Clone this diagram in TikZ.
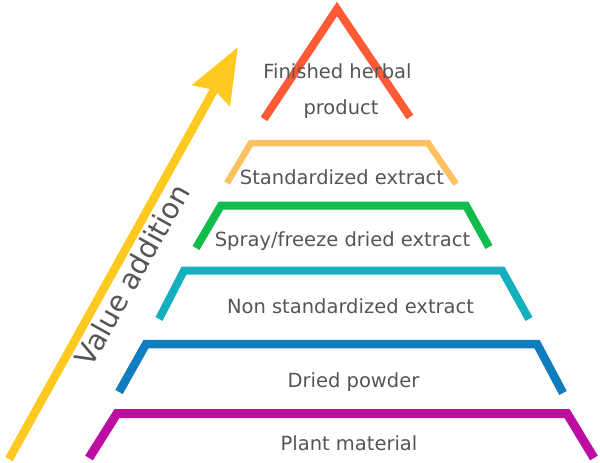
\documentclass[tikz,border=0pt]{standalone}
\usepackage{fontspec}
\setmainfont{DejaVu Sans}
\usetikzlibrary{arrows.meta}
\definecolor{cTop}{HTML}{FF5A36}
\definecolor{cStd}{HTML}{FFC05F}
\definecolor{cSpray}{HTML}{10BC4C}
\definecolor{cNon}{HTML}{15B0C0}
\definecolor{cDry}{HTML}{0F7DBE}
\definecolor{cPlant}{HTML}{BC0FA2}
\definecolor{cArrow}{HTML}{FFC91F}
\definecolor{cText}{HTML}{555555}
\tikzset{
  tier/.style={line cap=butt, line join=miter},
  lbl/.style={text=cText, font=\fontsize{19.5}{23}\selectfont, inner sep=0pt, anchor=base},
}
\begin{document}
\begin{tikzpicture}[x=1pt, y=-1pt]
\useasboundingbox (0,0) rectangle (600,463);
% top triangle
\draw[tier, cTop, line width=8pt] (264,119) -- (337,9) -- (410,117);
% standardized extract
\draw[tier, cStd, line width=6.5pt] (227,183) -- (251,143) -- (428,143) -- (456,184);
% spray/freeze dried extract
\draw[tier, cSpray, line width=8pt] (196,248) -- (221,205.5) -- (466,205.5) -- (489,247);
% non standardized extract
\draw[tier, cNon, line width=8pt] (159,319) -- (184,270.5) -- (502,270.5) -- (529,319);
% dried powder
\draw[tier, cDry, line width=8.5pt] (119,392) -- (146,344) -- (537,344) -- (563,393);
% plant material
\draw[tier, cPlant, line width=9pt] (89,458) -- (117,413.5) -- (567,413.5) -- (594,458);
% value addition arrow
\coordinate (abot) at (9,459);
\coordinate (atip) at (238,47);
\draw[cArrow, line width=8.5pt, -{Stealth[length=55pt, width=42pt, inset=6pt]}] (abot) -- (atip);
\node[text=cText, font=\fontsize{28.5}{32}\selectfont, inner sep=0pt, rotate=60.8] (va) at (132,275) {Value addition};
% labels
\node[lbl] (fin1) at (337.5,78) {Finished herbal};
\node[lbl] (fin2) at (341,114) {product};
\node[lbl] (std) at (342,184) {Standardized extract};
\node[lbl] (spray) at (342.5,246) {Spray/freeze dried extract};
\node[lbl] (non) at (350.5,313) {Non standardized extract};
\node[lbl] (dry) at (353.5,387) {Dried powder};
\node[lbl] (plant) at (349,450) {Plant material};
\end{tikzpicture}
\end{document}
